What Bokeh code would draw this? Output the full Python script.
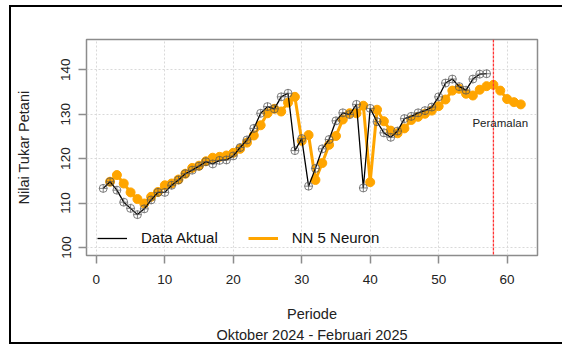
from bokeh.plotting import figure
from bokeh.models import Range1d, FixedTicker, Span, Label, Legend, LegendItem, ColumnDataSource, Title
from bokeh.embed import file_html
from bokeh.resources import INLINE

# ---- data ----
periode_aktual = list(range(1, 58))
data_aktual = [113.3, 114.8, 112.9, 110.2, 108.8, 107.4, 108.7, 110.7, 112.4, 112.4,
               114.0, 115.2, 116.6, 117.4, 118.3, 119.3, 118.8, 119.6, 119.7, 120.6,
               122.5, 124.2, 126.8, 130.2, 131.7, 131.2, 133.9, 134.7, 121.8, 124.5,
               113.8, 117.8, 122.2, 124.3, 128.5, 130.3, 129.9, 132.2, 113.4, 131.3,
               128.3, 125.8, 124.8, 126.2, 129.0, 129.5, 130.3, 130.8, 131.6, 133.9,
               137.0, 137.9, 136.2, 135.4, 137.9, 139.0, 139.1]
periode_nn = list(range(2, 63))
nn_5_neuron = [114.8, 116.3, 114.4, 112.4, 110.9, 109.9, 111.4, 112.5, 114.0,
               114.4, 115.3, 116.6, 117.9, 118.4, 119.4, 120.2, 120.4, 120.7, 121.3,
               122.2, 123.6, 125.2, 127.5, 130.2, 131.2, 130.6, 132.6, 133.9, 124.0,
               125.3, 115.2, 119.0, 123.1, 125.1, 128.8, 130.2, 130.2, 131.9, 114.7,
               131.0, 128.4, 126.3, 125.7, 126.8, 128.7, 129.4, 130.1, 130.8, 131.8,
               133.3, 135.3, 135.7, 134.6, 134.2, 135.5, 136.3, 136.6, 135.3, 133.4,
               132.7, 132.2]
batas_peramalan = 58
x_ticks = [0, 10, 20, 30, 40, 50, 60]
y_ticks = [100, 110, 120, 130, 140]
judul_bawah = "Oktober 2024 - Februari 2025"

FONT = "Liberation Sans"

p = figure(width=553, height=339, output_backend="svg", toolbar_location=None,
           x_range=Range1d(-1.44, 64.44), y_range=Range1d(98.2, 146.8),
           min_border_left=75, min_border_right=27, min_border_top=32, min_border_bottom=91)
p.styles = {"position": "absolute", "left": "9px", "top": "5px",
            "border-top": "2px solid black", "border-left": "2px solid black",
            "border-bottom": "2px solid black"}

p.outline_line_color = "#8c8c8c"
p.outline_line_width = 1.5
p.background_fill_color = "white"

for ax in (p.xaxis[0], p.yaxis[0]):
    ax.axis_line_color = None
    ax.major_tick_line_color = "#8c8c8c"
    ax.major_tick_line_width = 1.5
    ax.major_tick_out = 8
    ax.major_tick_in = 0
    ax.minor_tick_line_color = None
    ax.major_label_text_font = FONT
    ax.major_label_text_font_size = "13.5px"
    ax.major_label_text_color = "#222222"
    ax.axis_label_text_font = FONT
    ax.axis_label_text_font_size = "14.5px"
    ax.axis_label_text_font_style = "normal"
    ax.axis_label_text_color = "#222222"

p.xaxis.ticker = FixedTicker(ticks=x_ticks)
p.yaxis.ticker = FixedTicker(ticks=y_ticks)
p.yaxis.major_label_orientation = "vertical"
p.xaxis.major_label_standoff = 11
p.yaxis.major_label_standoff = 8
p.xaxis.axis_label = "Periode"
p.xaxis.axis_label_standoff = 19
p.yaxis.axis_label = "Nilai Tukar Petani"
p.yaxis.axis_label_standoff = 27

# second line of the x-axis title
sub = Title(text=judul_bawah, align="center", text_font=FONT, text_font_size="14.5px",
            text_font_style="normal", text_color="#222222", standoff=1, offset=0)
p.add_layout(sub, "below")

for g in (p.xgrid[0], p.ygrid[0]):
    g.grid_line_color = "#d9d9d9"
    g.grid_line_dash = "2 2"
    g.grid_line_width = 1

src_nn = ColumnDataSource(dict(x=periode_nn, y=nn_5_neuron))
src_ak = ColumnDataSource(dict(x=periode_aktual, y=data_aktual))

l_nn = p.line("x", "y", source=src_nn, line_color="#FFA500", line_width=3)
p.scatter("x", "y", source=src_nn, marker="circle", size=9, fill_color="#FFA500",
          line_color="#FFA500")
l_ak = p.line("x", "y", source=src_ak, line_color="black", line_width=1.3)
p.scatter("x", "y", source=src_ak, marker="circle_cross", size=8, fill_color=None,
          line_color="#555555", line_alpha=0.75, line_width=1)

p.add_layout(Span(location=batas_peramalan, dimension="height", line_color="#ff3333",
                  line_width=1.3, line_dash="3 1"))
p.add_layout(Label(x=59, y=128, text="Peramalan", text_align="center", text_baseline="middle",
                   text_font=FONT, text_font_size="11.5px", text_color="#222222"))

legend = Legend(items=[LegendItem(label="Data Aktual", renderers=[l_ak]),
                       LegendItem(label="NN 5 Neuron", renderers=[l_nn])],
                location=(11, 9), orientation="horizontal")
legend.background_fill_alpha = 0
legend.border_line_color = None
legend.margin = 0
legend.padding = 0
legend.spacing = 30
legend.glyph_width = 30
legend.glyph_height = 14
legend.label_standoff = 14
legend.label_text_font = FONT
legend.label_text_font_size = "15px"
legend.label_text_color = "#111111"
p.add_layout(legend)

open("out.html", "w").write(file_html(p, INLINE))
